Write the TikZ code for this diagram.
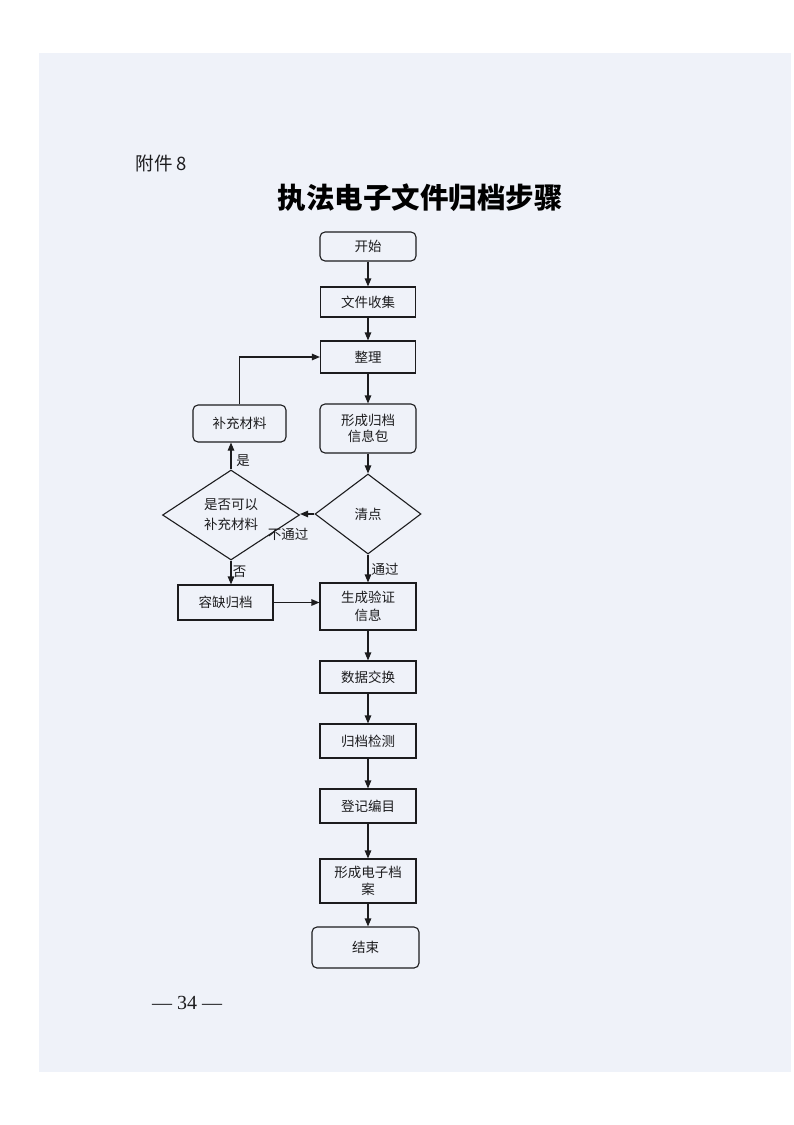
\documentclass[tikz,border=0pt]{standalone}
\usepackage{fontspec}
\setmainfont{Noto Sans CJK SC}
\newfontfamily\numfont{Liberation Serif}
\usetikzlibrary{shapes.geometric,arrows.meta}
\definecolor{pagetint}{RGB}{239,242,249}
\definecolor{ink}{RGB}{28,28,30}
\begin{document}
\begin{tikzpicture}[x=1pt,y=-1pt,
  box/.style={draw=ink, line width=1.1pt, rectangle, inner sep=0pt, align=center, text=ink,
              font=\fontsize{13.5}{17}\selectfont},
  rbox/.style={box, rounded corners=5pt},
  dia/.style={draw=ink, line width=1.1pt, diamond, inner sep=0pt, align=center, text=ink,
              font=\fontsize{13.5}{20}\selectfont},
  arr/.style={draw=ink, line width=1.1pt, -{Triangle[length=8pt,width=6.5pt]}},
  lbl/.style={inner sep=0pt, text=ink, font=\fontsize{13.5}{16}\selectfont}]
\useasboundingbox (0,0) rectangle (793,1125);
\fill[white] (0,0) rectangle (793,1125);
\fill[pagetint] (39,53) rectangle (791,1072);

\node[anchor=west, text=ink, font=\fontsize{18.5}{21}\selectfont] (att) at (132,163) {附件 8};
\node[text=black, font=\fontsize{28.5}{30}\selectfont\bfseries] (title) at (420,198) {执法电子文件归档步骤};

\node[rbox, minimum width=96pt, minimum height=29pt] (start) at (368,246.5) {开始};
\node[box, minimum width=95pt, minimum height=30pt] (collect) at (368,302) {文件收集};
\node[box, minimum width=95pt, minimum height=32pt] (tidy) at (368,357) {整理};
\node[rbox, minimum width=96pt, minimum height=49pt, font=\fontsize{13.5}{16}\selectfont] (pkg) at (368,428.5) {形成归档\\信息包};
\node[dia, minimum width=106pt, minimum height=80pt] (check) at (368,514) {清点};
\node[box, minimum width=96pt, minimum height=47pt, font=\fontsize{13.5}{18.5}\selectfont] (verify) at (368,606.5) {生成验证\\信息};
\node[box, minimum width=96pt, minimum height=32pt] (exch) at (368,677) {数据交换};
\node[box, minimum width=96pt, minimum height=34pt] (detect) at (368,741) {归档检测};
\node[box, minimum width=96pt, minimum height=34pt] (reg) at (368,806) {登记编目};
\node[box, minimum width=96pt, minimum height=44pt] (form) at (368,881) {形成电子档\\案};
\node[rbox, minimum width=107pt, minimum height=41pt] (end) at (365.5,947.5) {结束};

\node[rbox, minimum width=93pt, minimum height=37pt] (supply) at (239.5,423.5) {补充材料};
\node[dia, minimum width=137pt, minimum height=90pt] (can) at (231,515) {是否可以\\补充材料};
\node[box, minimum width=95pt, minimum height=35pt] (lack) at (225.5,602.5) {容缺归档};

\draw[arr] (start.south) -- (collect.north);
\draw[arr] (collect.south) -- (tidy.north);
\draw[arr] (tidy.south) -- (pkg.north);
\draw[arr] (pkg.south) -- (check.north);
\draw[arr] (check.south) -- (verify.north);
\draw[arr] (verify.south) -- (exch.north);
\draw[arr] (exch.south) -- (detect.north);
\draw[arr] (detect.south) -- (reg.north);
\draw[arr] (reg.south) -- (form.north);
\draw[arr] (form.south) -- (form.south |- end.north);

\draw[arr] (check.west) -- (check.west -| can.east);
\draw[arr] (can.north) -- (can.north |- supply.south);
\draw[arr] (supply.north) |- (tidy.west);
\draw[arr] (can.south) -- (can.south |- lack.north);
\draw[arr] (lack.east) -- (lack.east -| verify.west);

\node[lbl] (yes) at (243,461) {是};
\node[lbl] (nopass) at (288,534) {不通过};
\node[lbl] (no) at (239.5,572) {否};
\node[lbl] (pass) at (385,569) {通过};

\node[text=ink, font=\numfont\fontsize{20}{22}\selectfont] (page) at (187,1003) {— 34 —};
\end{tikzpicture}
\end{document}
